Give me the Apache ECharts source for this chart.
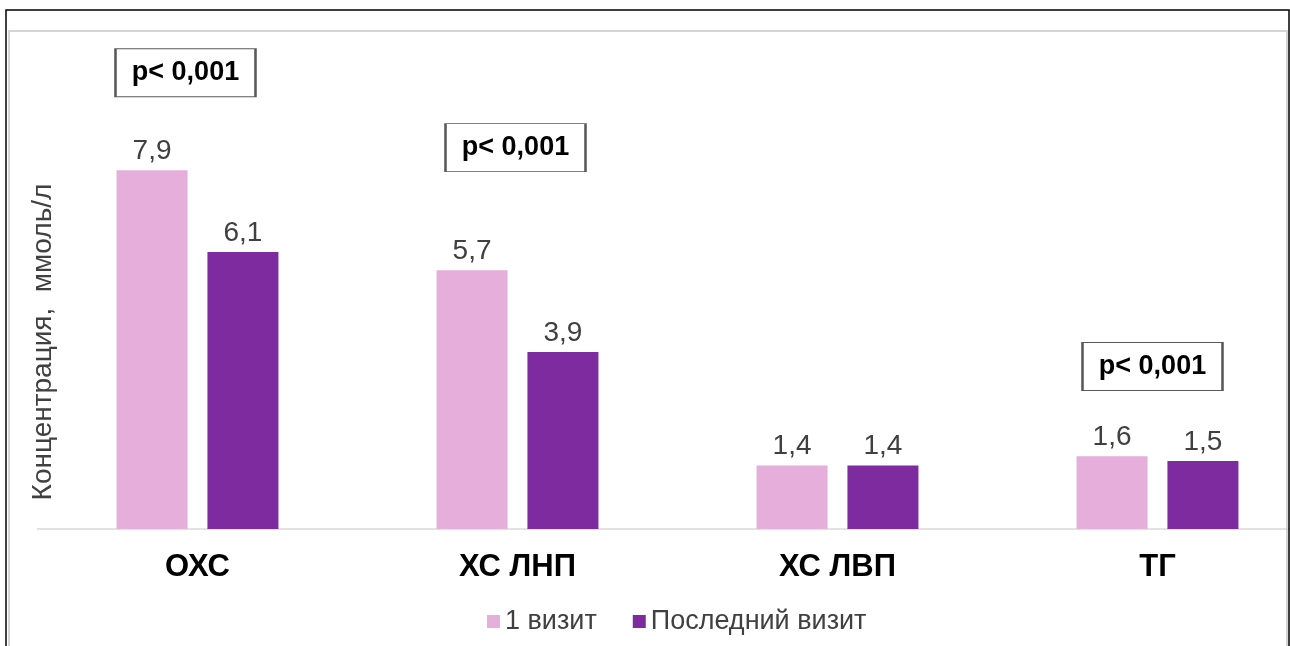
<!DOCTYPE html>
<html>
<head>
<meta charset="utf-8">
<script src="https://cdn.jsdelivr.net/npm/echarts@6/dist/echarts.min.js"></script>
<style>
html,body{margin:0;padding:0;background:#fff;overflow:hidden;}
#chart{width:1290px;height:646px;}
</style>
</head>
<body>
<div id="chart"></div>
<script>
var categories = ['ОХС', 'ХС ЛНП', 'ХС ЛВП', 'ТГ'];
var seriesNames = ['1 визит', 'Последний визит'];
var firstVisit = [7.9, 5.7, 1.4, 1.6];
var lastVisit = [6.1, 3.9, 1.4, 1.5];
var pLabels = ['p< 0,001', 'p< 0,001', null, 'p< 0,001'];
var pBoxLevel = [10.05, 8.4, null, 3.58];
var pBoxShift = [-12, -2, 0, -5];
var yAxisTitle = 'Концентрация,  ммоль/л';

var FONT = '"Liberation Sans", Arial, sans-serif';
var colors = ['#E6AEDB', '#7E2BA0'];

function fmt(p) { return p.value.toFixed(1).replace('.', ','); }

var pData = [];
for (var i = 0; i < categories.length; i++) {
  if (pLabels[i] !== null) {
    pData.push({
      value: [i, pBoxLevel[i]],
      symbolOffset: [pBoxShift[i], 0],
      label: { formatter: pLabels[i] }
    });
  }
}

var chart = echarts.init(document.getElementById('chart'), null, { renderer: 'canvas' });
chart.setOption({
  animation: false,
  backgroundColor: '#fff',
  textStyle: { fontFamily: FONT },
  grid: { left: 37.5, width: 1280, top: 29.6, bottom: 117, containLabel: false, outerBoundsMode: 'none' },
  legend: {
    data: seriesNames,
    left: 482,
    top: 603,
    icon: 'rect',
    itemWidth: 13,
    itemHeight: 13,
    itemGap: 36,
    textStyle: { fontSize: 27, color: '#404040', fontFamily: FONT }
  },
  xAxis: {
    type: 'category',
    data: categories,
    axisTick: { show: false },
    axisLine: { lineStyle: { color: '#d9d9d9', width: 1.5 } },
    axisLabel: { fontSize: 31, fontWeight: 'bold', color: '#000', margin: 23, fontFamily: FONT }
  },
  yAxis: {
    type: 'value',
    min: 0,
    max: 11,
    show: false,
    splitLine: { show: false }
  },
  series: [
    {
      name: seriesNames[0],
      type: 'bar',
      data: firstVisit,
      barWidth: 71,
      barGap: '28%',
      itemStyle: { color: colors[0] },
      label: { show: true, position: 'top', distance: 5, formatter: fmt, fontSize: 28, color: '#404040', fontFamily: FONT }
    },
    {
      name: seriesNames[1],
      type: 'bar',
      data: lastVisit,
      barWidth: 71,
      barGap: '28%',
      itemStyle: { color: colors[1] },
      label: { show: true, position: 'top', distance: 5, formatter: fmt, fontSize: 28, color: '#404040', fontFamily: FONT }
    },
    {
      name: 'p',
      type: 'scatter',
      data: pData,
      symbol: 'rect',
      symbolSize: [140, 48],
      z: 5,
      itemStyle: { color: '#fff', borderColor: '#595959', borderWidth: 1.5, opacity: 1 },
      label: { show: true, position: 'inside', fontSize: 27, fontWeight: 'bold', color: '#000', fontFamily: FONT },
      emphasis: { disabled: true },
      tooltip: { show: false }
    }
  ],
  graphic: [
    { type: 'rect', shape: { x: 6, y: 10, width: 1283, height: 660 }, style: { fill: 'none', stroke: '#000', lineWidth: 1.5 }, z: 100 },
    { type: 'rect', shape: { x: 9, y: 31, width: 1278, height: 640 }, style: { fill: 'none', stroke: '#c8c8c8', lineWidth: 1.5 }, z: 100 },
    { type: 'text', x: 43, y: 342, rotation: Math.PI / 2,
      style: { text: yAxisTitle, align: 'center', verticalAlign: 'middle', font: '28px ' + FONT, fill: '#404040' } }
  ]
});
</script>
</body>
</html>
